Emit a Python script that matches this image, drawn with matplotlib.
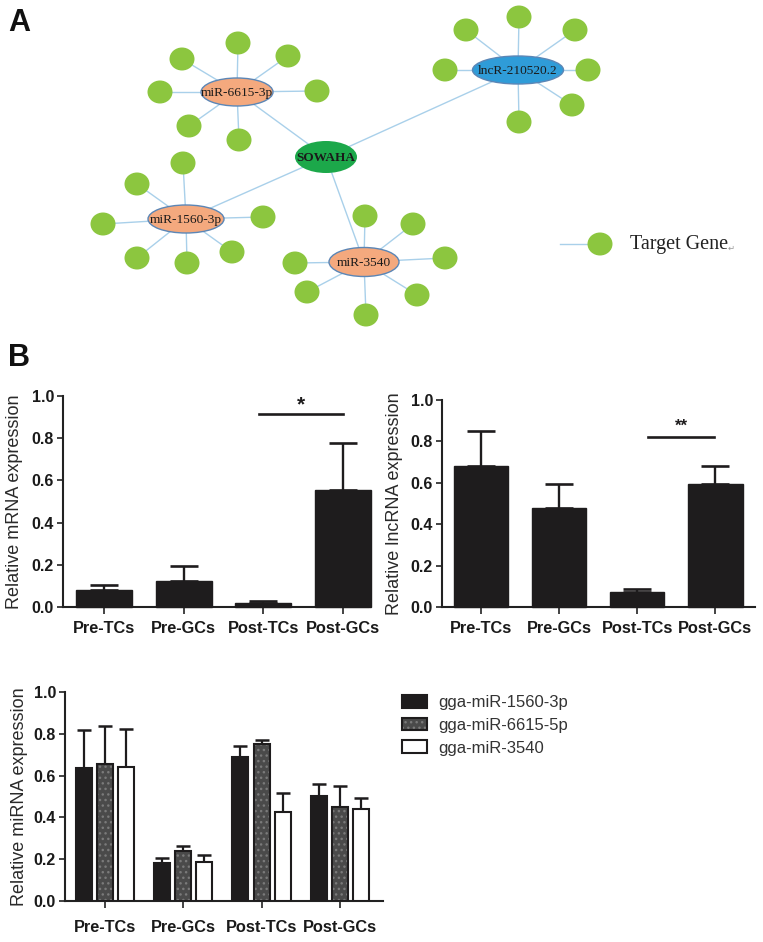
import matplotlib
matplotlib.use("Agg")
import matplotlib.pyplot as plt
from matplotlib.patches import Ellipse, Patch
import numpy as np

# ---------------- data ----------------
# Network (panel A), pixel layout of the original figure
center_name = "SOWAHA"
center_xy = (326, 157)
hub_names = ["miR-6615-3p", "miR-1560-3p", "miR-3540", "lncR-210520.2"]
hub_xy = [(237, 92), (186, 219), (364, 262), (518, 70)]
hub_w = [72, 76, 70, 91]
hub_h = [28, 28, 29, 28]
hub_kind = ["mirna", "mirna", "mirna", "lncrna"]
hub_targets = [
    [(238, 43), (182, 59), (288, 56), (160, 92), (317, 91), (189, 126), (239, 140)],
    [(183, 163), (137, 184), (103, 224), (263, 217), (137, 258), (187, 263), (232, 252)],
    [(365, 216), (413, 224), (445, 258), (417, 295), (366, 315), (307, 292), (295, 263)],
    [(519, 17), (466, 30), (575, 30), (445, 70), (588, 70), (572, 105), (519, 122)],
]
legend_node_label = "Target Gene"

# Panel B
groups = ["Pre-TCs", "Pre-GCs", "Post-TCs", "Post-GCs"]
mrna_mean = [0.080, 0.125, 0.018, 0.553]
mrna_err = [0.024, 0.069, 0.010, 0.225]
lnc_mean = [0.683, 0.479, 0.073, 0.592]
lnc_err = [0.165, 0.116, 0.016, 0.090]
mir_names = ["gga-miR-1560-3p", "gga-miR-6615-5p", "gga-miR-3540"]
mir_mean = [
    [0.635, 0.182, 0.691, 0.502],
    [0.656, 0.238, 0.752, 0.448],
    [0.640, 0.187, 0.424, 0.438],
]
mir_err = [
    [0.184, 0.024, 0.051, 0.058],
    [0.179, 0.026, 0.019, 0.104],
    [0.182, 0.035, 0.091, 0.053],
]
yticks = [0.0, 0.2, 0.4, 0.6, 0.8, 1.0]

# ---------------- style ----------------
SANS = ["Liberation Sans", "DejaVu Sans"]
SERIF = ["Liberation Serif", "DejaVu Serif"]
plt.rcParams["font.family"] = SANS
plt.rcParams["hatch.color"] = "#7a7a7a"
plt.rcParams["hatch.linewidth"] = 1.0

GREEN_T = "#8cc63f"
ORANGE = "#f4a97e"
BLUE = "#2f9cd8"
SOWAHA_GREEN = "#1ca84a"
EDGE = "#a9d0ea"
HUB_EDGE = "#5b86b6"
BAR_BLACK = "#1e1c1d"
BAR_GRAY = "#4a4a4a"
AX_COL = "#222222"

W, H = 763, 942
fig = plt.figure(figsize=(W / 100, H / 100), dpi=100)

# ---------------- panel A: network ----------------
net = fig.add_axes([0, 0, 1, 1])
net.set_xlim(0, W)
net.set_ylim(H, 0)
net.axis("off")
net.set_zorder(0)

for (hx, hy) in hub_xy:
    net.plot([center_xy[0], hx], [center_xy[1], hy], color=EDGE, lw=1.0, zorder=1)
for (hx, hy), tl in zip(hub_xy, hub_targets):
    for (tx, ty) in tl:
        net.plot([hx, tx], [hy, ty], color=EDGE, lw=1.0, zorder=1)
        net.add_patch(Ellipse((tx, ty), 25, 23, facecolor=GREEN_T, edgecolor="none", zorder=2))

for name, (hx, hy), w, h, kind in zip(hub_names, hub_xy, hub_w, hub_h, hub_kind):
    fc = ORANGE if kind == "mirna" else BLUE
    net.add_patch(Ellipse((hx, hy), w, h, facecolor=fc, edgecolor=HUB_EDGE, lw=1.0, zorder=3))
    net.text(hx, hy + 1, name, ha="center", va="center", fontsize=9.6, family=SERIF,
             color="#1a1a1a", zorder=4)

net.add_patch(Ellipse(center_xy, 62, 32, facecolor=SOWAHA_GREEN, edgecolor="none", zorder=3))
net.text(center_xy[0], center_xy[1] + 1, center_name, ha="center", va="center",
         fontsize=9.5, fontweight="bold", family=SERIF, color="#1a1a1a", zorder=4)

# legend for target gene
net.plot([560, 590], [244, 244], color=EDGE, lw=1.0, zorder=1)
net.add_patch(Ellipse((600, 244), 25, 23, facecolor=GREEN_T, edgecolor="none", zorder=2))
net.text(630, 244, legend_node_label, ha="left", va="center", fontsize=14.5, family=SERIF,
         color="#222222")
net.text(728, 248, "\u21b5", ha="left", va="center", fontsize=6, family=["DejaVu Sans"],
         color="#999999")

net.text(8, 8, "A", ha="left", va="top", fontsize=22, fontweight="bold", family=SANS,
         color="#111111")
net.text(8, 343, "B", ha="left", va="top", fontsize=22, fontweight="bold", family=SANS,
         color="#111111")


def style_axes(ax, xlim, label, label_x, xpad):
    ax.set_ylim(0, 1.0)
    ax.set_xlim(*xlim)
    for s in ["top", "right"]:
        ax.spines[s].set_visible(False)
    for s in ["left", "bottom"]:
        ax.spines[s].set_linewidth(1.5)
        ax.spines[s].set_color(AX_COL)
    ax.set_yticks(yticks)
    ax.set_yticklabels([f"{v:.1f}" for v in yticks])
    ax.set_xticks(range(len(groups)))
    ax.set_xticklabels(groups)
    ax.tick_params(axis="y", length=4.5, width=1.2, pad=2, labelsize=11.5, colors=AX_COL)
    ax.tick_params(axis="x", length=5, width=1.2, pad=xpad, labelsize=11.8, colors=AX_COL)
    for t in ax.get_yticklabels() + ax.get_xticklabels():
        t.set_fontweight("bold")
        t.set_color("#1a1a1a")
    ax.set_ylabel(label, fontsize=13, color="#2a2a2a")
    ax.yaxis.set_label_coords(label_x, 0.5)
    ax.patch.set_alpha(0)


def simple_bars(ax, means, errs, capsize):
    x = np.arange(len(means))
    ax.bar(x, means, width=0.7, color=BAR_BLACK, edgecolor=BAR_BLACK, lw=1.0,
           zorder=3, clip_on=False)
    ax.errorbar(x, means, yerr=[np.zeros(len(errs)), errs], fmt="none", ecolor=BAR_BLACK,
                elinewidth=1.7, capsize=capsize, capthick=1.9, zorder=2, clip_on=False)


# ---------------- chart 1: mRNA ----------------
ax1 = fig.add_axes([63 / W, 1 - 607 / H, 305 / W, 211 / H])
simple_bars(ax1, mrna_mean, mrna_err, 10)
style_axes(ax1, (-0.51, 3.31), "Relative mRNA expression", -0.13, 5)
ax1.plot([1.94, 3.0], [0.915, 0.915], color=BAR_BLACK, lw=1.9, clip_on=False)
ax1.text(2.47, 0.96, "*", ha="center", va="center", fontsize=15, fontweight="bold",
         color=BAR_BLACK, clip_on=False)

# ---------------- chart 2: lncRNA ----------------
ax2 = fig.add_axes([442 / W, 1 - 607 / H, 313 / W, 207 / H])
simple_bars(ax2, lnc_mean, lnc_err, 10)
style_axes(ax2, (-0.5, 3.51), "Relative lncRNA expression", -0.125, 5)
ax2.plot([2.14, 2.99], [0.82, 0.82], color=BAR_BLACK, lw=1.9, clip_on=False)
ax2.text(2.57, 0.875, "**", ha="center", va="center", fontsize=12, fontweight="bold",
         color=BAR_BLACK, clip_on=False)

# ---------------- chart 3: miRNA ----------------
ax3 = fig.add_axes([65 / W, 1 - 901 / H, 318 / W, 209 / H])
x = np.arange(len(groups))
offsets = [-0.27, 0.0, 0.27]
bw = 0.205
handles = []
for i in range(3):
    xi = x + offsets[i]
    if i == 0:
        ax3.bar(xi, mir_mean[i], width=bw, color=BAR_BLACK, edgecolor=BAR_BLACK,
                lw=1.5, zorder=3)
        handles.append(Patch(facecolor=BAR_BLACK, edgecolor=BAR_BLACK, lw=1.5))
    elif i == 1:
        ax3.bar(xi, mir_mean[i], width=bw, color=BAR_GRAY, hatch="...", lw=0, zorder=3)
        ax3.bar(xi, mir_mean[i], width=bw, fill=False, edgecolor=BAR_BLACK, lw=1.5, zorder=4)
        handles.append((Patch(facecolor=BAR_GRAY, hatch="...", lw=0),
                        Patch(fill=False, edgecolor=BAR_BLACK, lw=1.5)))
    else:
        ax3.bar(xi, mir_mean[i], width=bw, color="white", edgecolor=BAR_BLACK, lw=1.5, zorder=3)
        handles.append(Patch(facecolor="white", edgecolor=BAR_BLACK, lw=1.5))
    ax3.errorbar(xi, mir_mean[i], yerr=[np.zeros(4), mir_err[i]], fmt="none",
                 ecolor=BAR_BLACK, elinewidth=1.6, capsize=5, capthick=1.8, zorder=2)
style_axes(ax3, (-0.51, 3.55), "Relative miRNA expression", -0.115, 9)

fig.legend(handles, mir_names, loc="upper left", bbox_to_anchor=(402 / W, 1 - 695 / H),
           frameon=False, fontsize=12, handlelength=1.5, handleheight=0.8,
           handletextpad=0.7, labelspacing=0.45, borderpad=0, borderaxespad=0,
           labelcolor="#333333")

fig.savefig("out.png", dpi=100)
